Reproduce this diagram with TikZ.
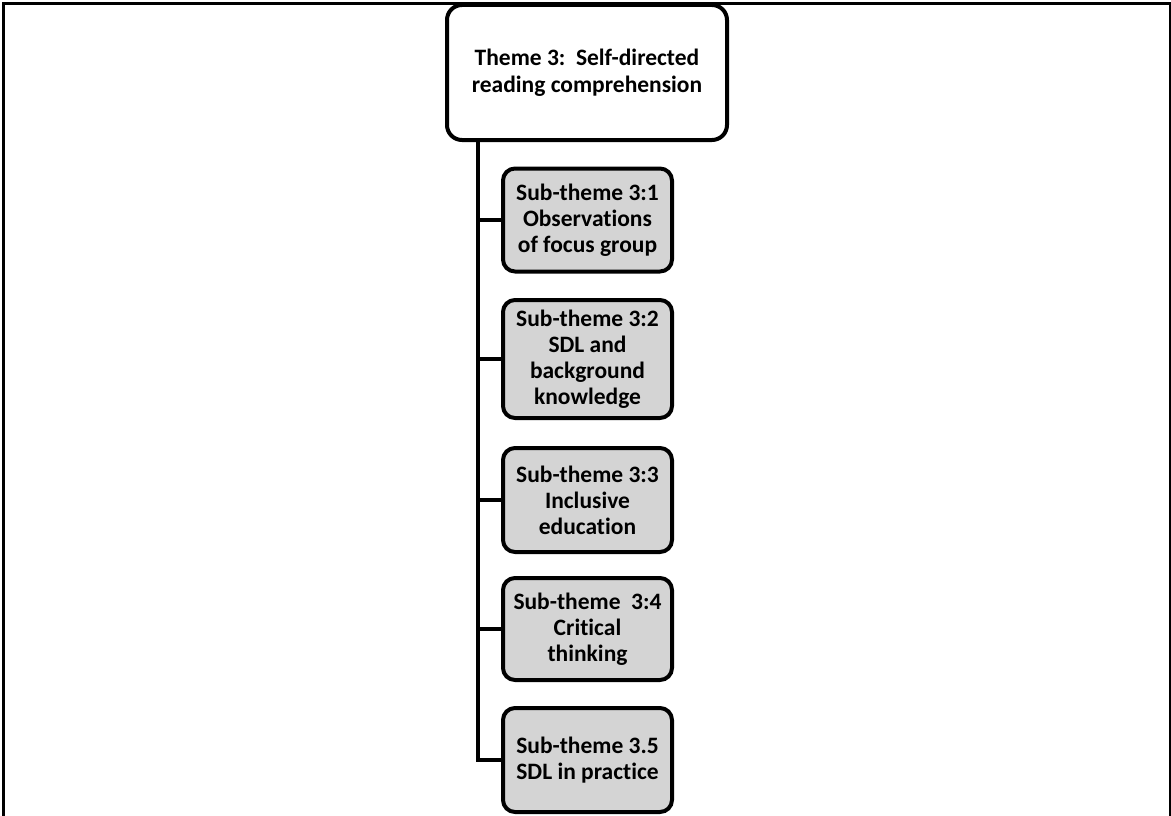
\documentclass[tikz,border=0pt]{standalone}
\usepackage{fontspec}
\setmainfont[Ligatures=NoCommon]{Carlito}
\begin{document}
\begin{tikzpicture}[x=1pt,y=-1pt,
  mainbox/.style={draw, line width=4pt, rounded corners=15pt, fill=white,
    minimum width=280pt, minimum height=135pt, align=center,
    font=\fontsize{23.5}{27}\selectfont\bfseries, inner sep=0pt},
  subbox/.style={draw, line width=4pt, rounded corners=12pt, fill=black!17,
    minimum width=169pt, align=center,
    font=\fontsize{23.5}{26}\selectfont\bfseries, inner sep=0pt},
  trunk/.style={line width=4.5pt}]
\useasboundingbox (0,0) rectangle (1171,816);
% page frame
\draw[line width=3pt] (3.5,816) -- (3.5,3.5) -- (1171,3.5);
\draw[line width=2pt] (1170,3.5) -- (1170,816);
% theme and sub-themes
\node[mainbox] (main) at (587,72.5) {Theme 3:\ \ Self-directed\\reading comprehension};
\node[subbox, minimum height=103pt] (s1) at (587.5,220) {Sub-theme 3:1\\Observations\\of focus group};
\node[subbox, minimum height=118pt] (s2) at (587.5,359) {Sub-theme 3:2\\SDL and\\background\\knowledge};
\node[subbox, minimum height=104pt] (s3) at (587.5,500) {Sub-theme 3:3\\Inclusive\\education};
\node[subbox, minimum height=102pt] (s4) at (587.5,629) {Sub-theme\ \ 3:4\\Critical\\thinking};
\node[subbox, minimum height=104pt] (s5) at (587.5,760) {Sub-theme 3.5\\SDL in practice};
% connectors
\coordinate (tb) at (478,760);
\draw[trunk] (main.south -| tb) -- (tb) -- (s5.west);
\foreach \s in {s1,s2,s3,s4}
  \draw[trunk] (\s.west -| tb) -- (\s.west);
\end{tikzpicture}
\end{document}
